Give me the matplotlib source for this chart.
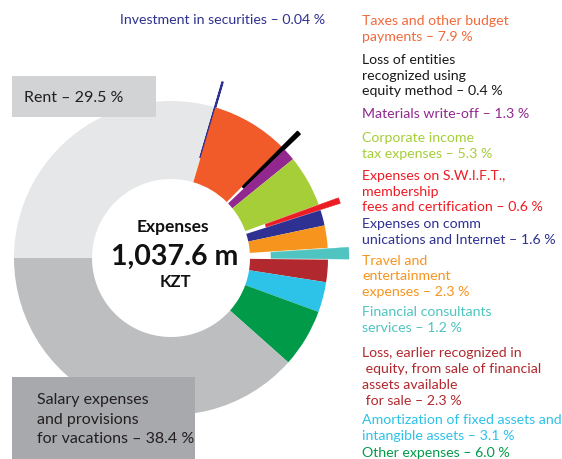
import matplotlib.pyplot as plt

plt.rcParams["font.family"] = ["Lato", "DejaVu Sans"]

# clockwise from 9 o'clock
categories = [
    "Rent",
    "Investment in securities",
    "Taxes and other budget payments",
    "Loss of entities recognized using equity method",
    "Materials write-off",
    "Corporate income tax expenses",
    "Expenses on S.W.I.F.T., membership fees and certification",
    "Expenses on communications and Internet",
    "Travel and entertainment expenses",
    "Financial consultants services",
    "Loss, earlier recognized in equity, from sale of financial assets available for sale",
    "Amortization of fixed assets and intangible assets",
    "Other expenses",
    "Salary expenses and provisions for vacations",
]
shares = [29.5, 0.04, 7.9, 0.4, 1.3, 5.3, 0.6, 1.6, 2.3, 1.2, 2.3, 3.1, 6.0, 38.4]

label_texts = [
    "Investment in securities \u2013 0.04 %",
    "Taxes and other budget\npayments \u2013 7.9 %",
    "Loss of entities\nrecognized using\nequity method \u2013 0.4 %",
    "Materials write-off \u2013 1.3 %",
    "Corporate income\ntax expenses \u2013 5.3 %",
    "Expenses on S.W.I.F.T.,\nmembership\nfees and certification \u2013 0.6 %",
    "Expenses on comm\nunications and Internet \u2013 1.6 %",
    "Travel and\nentertainment\nexpenses \u2013 2.3 %",
    "Financial consultants\nservices \u2013 1.2 %",
    "Loss, earlier recognized in\n equity, from sale of financial\nassets available\n for sale \u2013 2.3 %",
    "Amortization of fixed assets and\nintangible assets \u2013 3.1 %",
    "Other expenses \u2013 6.0 %",
]
rent_label = "Rent \u2013 29.5 %"
salary_label = "Salary expenses\nand provisions\nfor vacations \u2013 38.4 %"
total_lines = ["Expenses", "1,037.6 m", "KZT"]

slice_colors = [
    "#e6e7e8", "#2e3192", "#f15a29", "#000000", "#92278f", "#a6ce39", "#ed1c24",
    "#2e3192", "#f7941d", "#4fc4c0", "#b1282e", "#2dc2e8", "#009a49", "#bcbec0",
]
text_colors = [
    "#2e3192", "#f26a3b", "#1a1a1a", "#92278f", "#a6ce39", "#ed1c24",
    "#2e3192", "#f7941d", "#4fc4c0", "#b1282e", "#2dc2e8", "#009a49",
]
# outward shift (pixels) of the thin slices
shift_px = [0, 26, 0, 22, 0, 0, 21, 0, 0, 21, 0, 0, 0, 0]
edge_px = [0, 1.4, 0, 1.0, 0, 0, 0.3, 0, 0, 0.3, 0, 0, 0, 0]

W, H = 562, 459
R_OUT, R_IN = 157, 79
CX, CY = 171, H - 258
LINE_PX = 16.7

fig = plt.figure(figsize=(W / 100, H / 100), dpi=100)
ax = fig.add_axes([0, 0, 1, 1])

# explode is in data units, which here are pixels
wedges, _ = ax.pie(
    shares,
    colors=slice_colors,
    startangle=180,
    counterclock=False,
    radius=R_OUT,
    center=(CX, CY),
    explode=shift_px,
    wedgeprops=dict(width=R_OUT - R_IN, linewidth=0),
    normalize=True,
)
for w, lw, c in zip(wedges, edge_px, slice_colors):
    if lw:
        w.set_edgecolor(c)
        w.set_linewidth(lw)

ax.set_xlim(0, W)
ax.set_ylim(0, H)
ax.set_aspect("equal")
ax.axis("off")

# centre caption
ax.text(CX + 2, H - 232, total_lines[0], ha="center", va="baseline", fontsize=12.5,
        fontweight="bold", color="#111111")
ax.text(CX + 4, H - 265, total_lines[1], ha="center", va="baseline", fontsize=20.5,
        fontweight="bold", color="#111111")
ax.text(CX + 4, H - 287, total_lines[2], ha="center", va="baseline", fontsize=12,
        fontweight="bold", color="#111111")

# grey boxes for the two big slices
ax.add_patch(plt.Rectangle((12, H - 117), 144, 41, color="#d1d3d4", lw=0))
ax.text(24, H - 102, rent_label, ha="left", va="baseline", fontsize=11.5, color="#231f20")
ax.add_patch(plt.Rectangle((12, 0), 183, H - 377, color="#a7a9ac", lw=0))
ax.text(37, H - 443, salary_label, ha="left", va="baseline", fontsize=11.5,
        color="#231f20", linespacing=1.48)

# labels on the right (y = baseline of the first line, from the top)
label_x = [120] + [362] * 11
label_base = [24, 24, 62, 118, 141, 178, 227, 263, 315, 355, 423, 457]
for x, y, txt, col in zip(label_x, label_base, label_texts, text_colors):
    n = txt.count("\n")
    ax.text(x, H - (y + n * LINE_PX), txt, ha="left", va="baseline", fontsize=10.2,
            color=col, linespacing=1.39)

fig.savefig("out.png", dpi=100)
